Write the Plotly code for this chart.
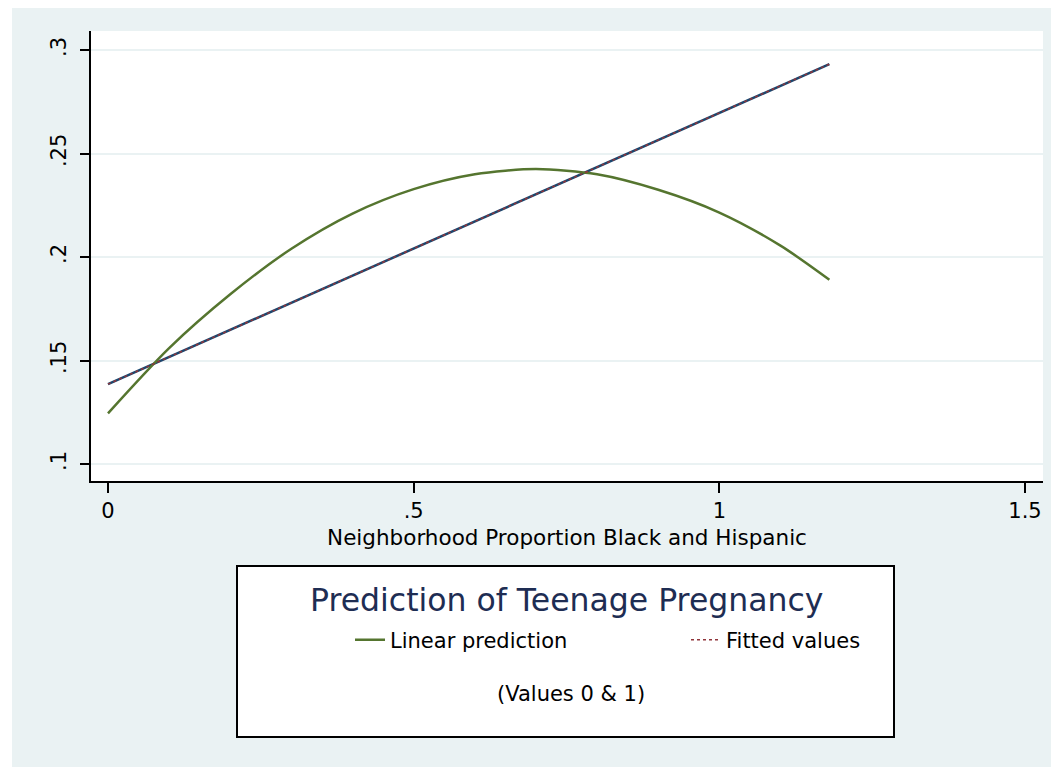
"""
Prediction of teenage pregnancy by neighborhood composition (Stata s2color look).
"""

import plotly.graph_objects as go

# Data
x_linear = [0.0, 0.1, 0.2, 0.3, 0.4, 0.5, 0.6, 0.7, 0.8, 0.9, 1.0, 1.1, 1.18]
y_linear = [0.1245, 0.156, 0.182, 0.204, 0.221, 0.2328, 0.240, 0.2425, 0.240, 0.2325, 0.2215, 0.2055, 0.189]

x_fitted = [0.0, 1.18]
y_fitted = [0.1386, 0.2932]

x_ticks = [0, 0.5, 1, 1.5]
x_tick_labels = ["0", ".5", "1", "1.5"]
y_ticks = [0.1, 0.15, 0.2, 0.25, 0.3]
y_tick_labels = [".1", ".15", ".2", ".25", ".3"]

# Stata s2color palette
THEME = {
    "region": "#eaf2f3",
    "plot": "#ffffff",
    "grid": "#eaf2f3",
    "navy": "#1a476f",
    "maroon": "#90353b",
    "green": "#55752f",
    "title": "#1e2d53",
    "text": "#000000",
}

FONT = "DejaVu Sans"

# The page puts the figure 8px in from the top-left corner, so the
# figure is sized to end at the window edge.
PAGE_OFFSET = 8
W, H = 1059 - PAGE_OFFSET, 767 - PAGE_OFFSET
PLOT_LEFT, PLOT_RIGHT, PLOT_TOP, PLOT_BOTTOM = 91, 1043, 31, 481  # page pixels
PW, PH = PLOT_RIGHT - PLOT_LEFT, PLOT_BOTTOM - PLOT_TOP


def px_x(px):
    """Page pixel column -> paper x."""
    return (px - PLOT_LEFT) / PW


def px_y(py):
    """Page pixel row -> paper y."""
    return (PLOT_BOTTOM - py) / PH


fig = go.Figure()

# Navy regression line with the maroon dotted fitted values drawn over it
fig.add_trace(
    go.Scatter(
        x=x_fitted,
        y=y_fitted,
        mode="lines",
        line=dict(color=THEME["navy"], width=2.5),
        showlegend=False,
        hoverinfo="skip",
    )
)
fig.add_trace(
    go.Scatter(
        x=x_linear,
        y=y_linear,
        mode="lines",
        line=dict(color=THEME["green"], width=2.5, shape="spline", smoothing=0.8),
        name="Linear prediction",
    )
)
fig.add_trace(
    go.Scatter(
        x=x_fitted,
        y=y_fitted,
        mode="lines",
        line=dict(color=THEME["maroon"], width=1.5, dash="dot"),
        name="Fitted values",
    )
)

fig.update_layout(
    width=W,
    height=H,
    margin=dict(
        l=PLOT_LEFT - PAGE_OFFSET,
        r=1059 - PLOT_RIGHT,
        t=PLOT_TOP - PAGE_OFFSET,
        b=767 - PLOT_BOTTOM,
    ),
    paper_bgcolor=THEME["region"],
    plot_bgcolor=THEME["plot"],
    font=dict(family=FONT, color=THEME["text"], size=21),
    xaxis=dict(
        range=[-0.0278, 1.5294],
        tickvals=x_ticks,
        ticktext=x_tick_labels,
        ticks="outside",
        ticklen=10,
        tickwidth=2,
        tickcolor="black",
        tickfont=dict(size=21),
        showline=True,
        linecolor="black",
        linewidth=2,
        showgrid=False,
        zeroline=False,
        title=dict(
            text="Neighborhood Proportion Black and Hispanic",
            font=dict(size=21.5),
            standoff=8,
        ),
    ),
    yaxis=dict(
        range=[0.0918, 0.3092],
        tickvals=y_ticks,
        ticktext=y_tick_labels,
        tickangle=-90,
        ticks="outside",
        ticklen=9,
        tickwidth=2,
        tickcolor="black",
        tickfont=dict(size=21),
        ticklabelstandoff=6,
        showline=True,
        linecolor="black",
        linewidth=2,
        showgrid=True,
        gridcolor=THEME["grid"],
        gridwidth=1.5,
        zeroline=False,
    ),
    legend=dict(
        orientation="h",
        x=px_x(350),
        y=px_y(640),
        xanchor="left",
        yanchor="middle",
        bgcolor="rgba(0,0,0,0)",
        font=dict(size=21),
        entrywidth=291,
        entrywidthmode="pixels",
    ),
    showlegend=True,
)

# White strip at the left edge of the page
fig.add_shape(
    type="rect", xref="paper", yref="paper",
    x0=px_x(PAGE_OFFSET), x1=px_x(12), y0=px_y(767), y1=px_y(PAGE_OFFSET),
    fillcolor="white", line_width=0, layer="below",
)

# Legend box
fig.add_shape(
    type="rect", xref="paper", yref="paper",
    x0=px_x(237), x1=px_x(894), y0=px_y(737), y1=px_y(566),
    fillcolor="white", line=dict(color="black", width=2), layer="below",
)
fig.add_annotation(
    text="Prediction of Teenage Pregnancy",
    xref="paper", yref="paper",
    x=px_x(566), y=px_y(600),
    xanchor="center", yanchor="middle",
    showarrow=False,
    font=dict(size=31.5, color=THEME["title"]),
)
fig.add_annotation(
    text="(Values 0 & 1)",
    xref="paper", yref="paper",
    x=px_x(571), y=px_y(694),
    xanchor="center", yanchor="middle",
    showarrow=False,
    font=dict(size=21),
)

fig.write_html("out.html")
